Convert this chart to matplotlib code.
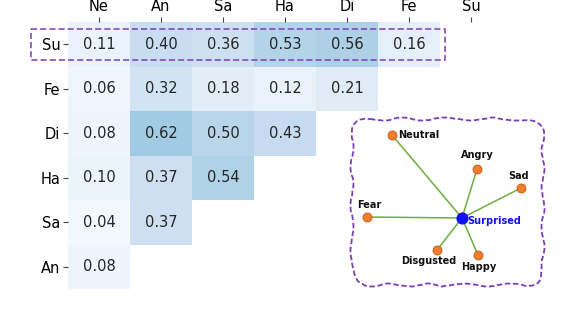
import numpy as np
import matplotlib.pyplot as plt
from matplotlib.patches import Rectangle, FancyBboxPatch

# similarity matrix (lower-left triangle, rows top -> bottom)
col_labels = ['Ne', 'An', 'Sa', 'Ha', 'Di', 'Fe', 'Su']
row_labels = ['Su', 'Fe', 'Di', 'Ha', 'Sa', 'An']
sim = [
    [0.11, 0.40, 0.36, 0.53, 0.56, 0.16],
    [0.06, 0.32, 0.18, 0.12, 0.21],
    [0.08, 0.62, 0.50, 0.43],
    [0.10, 0.37, 0.54],
    [0.04, 0.37],
    [0.08],
]

# inset graph: emotions around "Surprised"
node_names = ['Neutral', 'Angry', 'Sad', 'Fear', 'Disgusted', 'Happy']
node_x = [392, 477, 521, 367, 437, 478]
node_y = [135, 169, 188, 217, 250, 255]
center_name = 'Surprised'
center_xy = (462, 218)

W, H = 570, 318
fig = plt.figure(figsize=(W / 100, H / 100), dpi=100)

# ---- heatmap ----
ax = fig.add_axes([68 / W, 1 - 289 / H, 434 / W, 267 / H])
data = np.full((len(row_labels), len(col_labels)), np.nan)
for i, row in enumerate(sim):
    data[i, :len(row)] = row
masked = np.ma.masked_invalid(data)
ax.pcolormesh(masked, cmap='Blues', vmin=0, vmax=1.7)
ax.set_xlim(0, len(col_labels))
ax.set_ylim(len(row_labels), 0)
for i in range(data.shape[0]):
    for j in range(data.shape[1]):
        if not np.isnan(data[i, j]):
            ax.text(j + 0.5, i + 0.5, '%.2f' % data[i, j], ha='center', va='center',
                    fontsize=10.5, color='#262626')

ax.xaxis.tick_top()
ax.set_xticks(np.arange(len(col_labels)) + 0.5)
ax.set_xticklabels(col_labels, fontsize=10.5)
ax.set_yticks(np.arange(len(row_labels)) + 0.5)
ax.set_yticklabels(row_labels, fontsize=10.5)
ax.tick_params(length=3.5, width=0.8, color='#444444', pad=2)
for s in ax.spines.values():
    s.set_visible(False)

# dashed highlight around the Su row
ax.add_patch(Rectangle((-0.6, 0.16), 6.68, 0.69, fill=False, ec='#7b3fb5',
                       ls=(0, (4, 2)), lw=1.1, clip_on=False))

# ---- inset graph ----
ax2 = fig.add_axes([340 / W, 1 - 295 / H, 215 / W, 185 / H])
ax2.set_xlim(340, 555)
ax2.set_ylim(295, 110)
ax2.axis('off')

box = FancyBboxPatch((352, 119), 191, 166, boxstyle='round,pad=0,rounding_size=18',
                     fill=False, ec='#7b3fb5', lw=1.3, ls=(0, (3, 1.5)))
box.set_sketch_params(scale=1.5, length=60, randomness=4)
ax2.add_patch(box)

for x, y in zip(node_x, node_y):
    ax2.plot([center_xy[0], x], [center_xy[1], y], color='#6fae3f', lw=1.1, zorder=1)
ax2.scatter(node_x, node_y, s=42, color='#ee7d2e', ec='#c05a10', lw=0.6, zorder=3)
ax2.scatter([center_xy[0]], [center_xy[1]], s=60, color='#1010ff', zorder=4)

fkw = dict(fontsize=7, fontweight='bold', family='DejaVu Sans')
offsets = {
    'Neutral': (6, 0, 'left', 'center'),
    'Angry': (0, -9, 'center', 'bottom'),
    'Sad': (-2, -7, 'center', 'bottom'),
    'Fear': (2, -7, 'center', 'bottom'),
    'Disgusted': (-8, 6, 'center', 'top'),
    'Happy': (1, 7, 'center', 'top'),
}
for name, x, y in zip(node_names, node_x, node_y):
    dx, dy, ha, va = offsets[name]
    ax2.text(x + dx, y + dy, name, ha=ha, va=va, color='#111111', **fkw)
ax2.text(center_xy[0] + 5, center_xy[1] + 3, center_name, ha='left', va='center',
         color='#1010ff', **fkw)

fig.savefig('out.png', dpi=100)
